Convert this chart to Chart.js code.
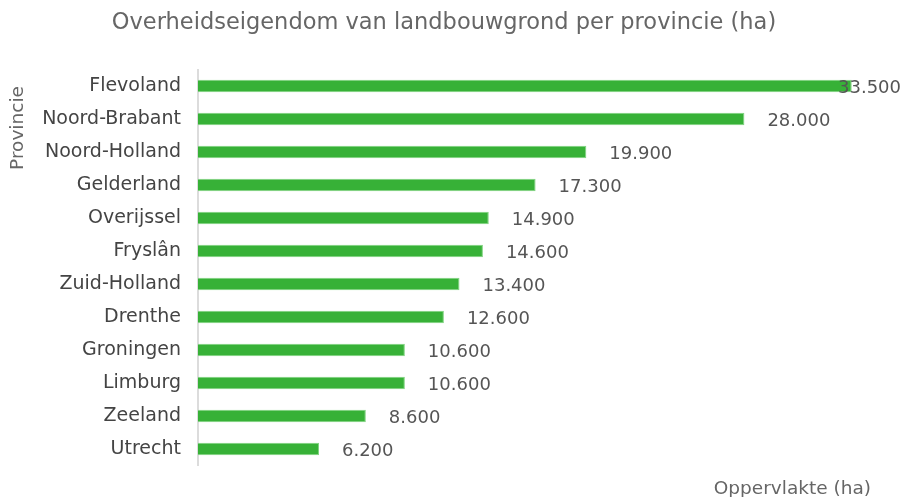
<!DOCTYPE html>
<html>
<head>
<meta charset="utf-8">
<script src="https://cdn.jsdelivr.net/npm/chart.js@4/dist/chart.umd.min.js"></script>
<style>
  html, body { margin: 0; padding: 0; background: #fff; }
  #wrap { width: 903px; height: 497px; }
</style>
</head>
<body>
<div id="wrap"><canvas id="provChart"></canvas></div>
<script>
const provinces = ["Flevoland", "Noord-Brabant", "Noord-Holland", "Gelderland", "Overijssel", "Fryslân",
    "Zuid-Holland", "Drenthe", "Groningen", "Limburg", "Zeeland", "Utrecht"];
const hectares = [33500, 28000, 19900, 17300, 14900, 14600, 13400, 12600, 10600, 10600, 8600, 6200];

const fontFamily = "'DejaVu Sans', Verdana, sans-serif";

// value labels + axis titles drawn on the canvas
const extraText = {
    id: "extraText",
    afterDatasetsDraw(chart) {
        const ctx = chart.ctx;
        const meta = chart.getDatasetMeta(0);
        ctx.save();
        ctx.font = "18px " + fontFamily;
        ctx.fillStyle = "#555";
        ctx.textBaseline = "middle";
        ctx.textAlign = "left";
        meta.data.forEach((bar, i) => {
            const txt = hectares[i].toLocaleString("nl-NL");
            const w = ctx.measureText(txt).width;
            let x = bar.x + 23;
            if (x + w > chart.width - 2) x = chart.width - 2 - w;
            ctx.fillText(txt, x, bar.y + 2);
        });

        ctx.fillStyle = "#666";
        ctx.font = "22.5px " + fontFamily;
        ctx.textAlign = "center";
        ctx.fillText("Overheidseigendom van landbouwgrond per provincie (ha)", 444, 23);

        ctx.font = "18.5px " + fontFamily;
        ctx.textAlign = "right";
        ctx.fillText("Oppervlakte (ha)", 871, 489);

        ctx.translate(18, 128);
        ctx.rotate(-Math.PI / 2);
        ctx.textAlign = "center";
        ctx.fillText("Provincie", 0, 0);
        ctx.restore();
    }
};

new Chart(document.getElementById("provChart"), {
    type: "bar",
    data: {
        labels: provinces,
        datasets: [{
            data: hectares,
            backgroundColor: "#37b137",
            borderColor: "#7fd37f",
            borderWidth: 1,
            barPercentage: 0.62,
            categoryPercentage: 0.6
        }]
    },
    options: {
        indexAxis: "y",
        responsive: true,
        maintainAspectRatio: false,
        animation: false,
        layout: { padding: { top: 69.5, bottom: 31.5, left: 0, right: 22 } },
        plugins: {
            legend: { display: false },
            tooltip: { enabled: false }
        },
        scales: {
            x: {
                display: false,
                min: 0,
                max: 35000
            },
            y: {
                afterFit(scale) { scale.width = 198; },
                grid: { display: false, drawTicks: false },
                border: { display: true, color: "#dcdcdc", width: 2 },
                ticks: {
                    padding: 17,
                    color: "#444",
                    font: { family: fontFamily, size: 19 }
                }
            }
        }
    },
    plugins: [extraText]
});
</script>
</body>
</html>
